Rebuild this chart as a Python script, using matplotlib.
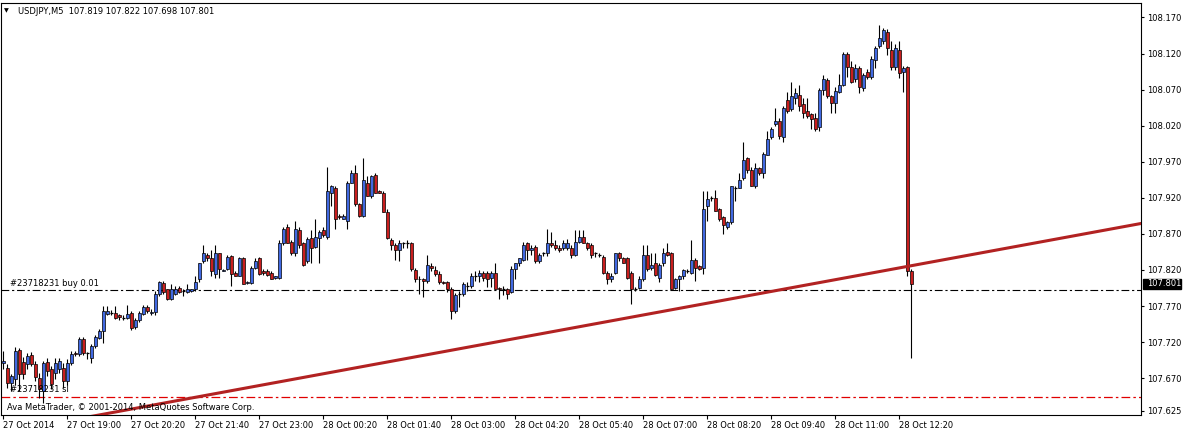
import numpy as np
import matplotlib
matplotlib.use("Agg")
import matplotlib.pyplot as plt
from matplotlib.patches import Rectangle

# USDJPY M5 candles (one row = 16 bars = 80 minutes)
opens = [
    107.691, 107.684, 107.663, 107.669, 107.709, 107.693, 107.690, 107.702, 107.690, 107.670, 107.652, 107.693, 107.683, 107.677, 107.683, 107.684,
    107.666, 107.691, 107.705, 107.704, 107.725, 107.705, 107.698, 107.715, 107.726, 107.736, 107.759, 107.761, 107.761, 107.757, 107.754, 107.754,
    107.761, 107.741, 107.751, 107.759, 107.769, 107.761, 107.762, 107.787, 107.802, 107.793, 107.780, 107.787, 107.795, 107.791, 107.790, 107.791,
    107.793, 107.807, 107.832, 107.841, 107.837, 107.815, 107.843, 107.819, 107.822, 107.840, 107.816, 107.812, 107.837, 107.802, 107.802, 107.823,
    107.837, 107.818, 107.819, 107.816, 107.809, 107.809, 107.858, 107.880, 107.859, 107.843, 107.876, 107.857, 107.833, 107.865, 107.852, 107.865,
    107.876, 107.866, 107.926, 107.933, 107.895, 107.891, 107.888, 107.941, 107.954, 107.911, 107.895, 107.941, 107.923, 107.951, 107.930, 107.927,
    107.901, 107.862, 107.855, 107.848, 107.857, 107.857, 107.857, 107.820, 107.808, 107.807, 107.805, 107.826, 107.820, 107.815, 107.804, 107.804,
    107.794, 107.763, 107.787, 107.787, 107.798, 107.798, 107.812, 107.811, 107.816, 107.816, 107.809, 107.816, 107.795, 107.793, 107.794, 107.790,
    107.822, 107.830, 107.834, 107.857, 107.847, 107.852, 107.833, 107.843, 107.843, 107.858, 107.855, 107.851, 107.850, 107.850, 107.851, 107.841,
    107.859, 107.866, 107.857, 107.855, 107.843, 107.841, 107.838, 107.816, 107.808, 107.816, 107.844, 107.836, 107.836, 107.816, 107.794, 107.795,
    107.808, 107.841, 107.823, 107.829, 107.809, 107.829, 107.845, 107.843, 107.795, 107.807, 107.811, 107.819, 107.816, 107.834, 107.825, 107.823,
    107.908, 107.920, 107.920, 107.904, 107.893, 107.880, 107.886, 107.934, 107.934, 107.947, 107.975, 107.959, 107.937, 107.961, 107.954, 107.980,
    108.004, 108.022, 108.027, 108.004, 108.056, 108.043, 108.058, 108.062, 108.050, 108.041, 108.036, 108.030, 108.018, 108.069, 108.083, 108.061,
    108.051, 108.066, 108.076, 108.120, 108.101, 108.084, 108.100, 108.072, 108.095, 108.087, 108.111, 108.130, 108.138, 108.150, 108.125, 108.101,
    108.125, 108.094, 108.101, 107.819,
]
highs = [
    107.708, 107.690, 107.676, 107.713, 107.712, 107.700, 107.705, 107.707, 107.694, 107.677, 107.694, 107.698, 107.687, 107.698, 107.698, 107.691,
    107.697, 107.708, 107.708, 107.727, 107.727, 107.707, 107.718, 107.730, 107.738, 107.770, 107.770, 107.765, 107.770, 107.759, 107.757, 107.772,
    107.763, 107.754, 107.763, 107.772, 107.772, 107.766, 107.791, 107.805, 107.805, 107.794, 107.801, 107.798, 107.798, 107.793, 107.801, 107.794,
    107.811, 107.830, 107.855, 107.844, 107.847, 107.855, 107.844, 107.822, 107.841, 107.841, 107.819, 107.838, 107.838, 107.805, 107.825, 107.836,
    107.838, 107.822, 107.822, 107.818, 107.812, 107.861, 107.880, 107.884, 107.862, 107.888, 107.879, 107.859, 107.866, 107.875, 107.890, 107.876,
    107.879, 107.963, 107.938, 107.936, 107.898, 107.898, 107.943, 107.958, 107.965, 107.913, 107.975, 107.950, 107.952, 107.955, 107.931, 107.930,
    107.904, 107.865, 107.858, 107.861, 107.859, 107.861, 107.859, 107.823, 107.811, 107.809, 107.841, 107.829, 107.825, 107.818, 107.805, 107.805,
    107.797, 107.788, 107.791, 107.804, 107.804, 107.816, 107.818, 107.820, 107.819, 107.819, 107.819, 107.829, 107.797, 107.798, 107.795, 107.826,
    107.830, 107.837, 107.859, 107.859, 107.854, 107.854, 107.844, 107.845, 107.877, 107.873, 107.861, 107.854, 107.861, 107.863, 107.855, 107.876,
    107.876, 107.875, 107.859, 107.858, 107.845, 107.844, 107.841, 107.819, 107.816, 107.844, 107.845, 107.838, 107.838, 107.819, 107.797, 107.811,
    107.855, 107.855, 107.844, 107.844, 107.829, 107.851, 107.858, 107.845, 107.809, 107.813, 107.822, 107.822, 107.862, 107.836, 107.827, 107.930,
    107.929, 107.922, 107.931, 107.906, 107.895, 107.888, 107.936, 107.937, 107.954, 107.997, 107.976, 107.963, 107.968, 107.963, 107.983, 108.013,
    108.018, 108.045, 108.030, 108.047, 108.066, 108.081, 108.072, 108.077, 108.059, 108.058, 108.038, 108.038, 108.072, 108.090, 108.086, 108.063,
    108.073, 108.091, 108.122, 108.122, 108.109, 108.106, 108.102, 108.093, 108.098, 108.116, 108.130, 108.159, 108.155, 108.154, 108.138, 108.133,
    108.138, 108.102, 108.102, 107.822,
]
lows = [
    107.683, 107.657, 107.652, 107.661, 107.652, 107.669, 107.683, 107.687, 107.666, 107.643, 107.636, 107.673, 107.655, 107.669, 107.677, 107.657,
    107.661, 107.688, 107.701, 107.701, 107.702, 107.697, 107.691, 107.712, 107.725, 107.719, 107.757, 107.757, 107.752, 107.751, 107.751, 107.752,
    107.737, 107.738, 107.748, 107.758, 107.761, 107.758, 107.758, 107.784, 107.787, 107.779, 107.779, 107.786, 107.788, 107.784, 107.788, 107.790,
    107.791, 107.804, 107.829, 107.833, 107.812, 107.809, 107.809, 107.818, 107.820, 107.798, 107.811, 107.811, 107.800, 107.801, 107.801, 107.822,
    107.813, 107.813, 107.812, 107.807, 107.808, 107.808, 107.855, 107.857, 107.841, 107.840, 107.851, 107.826, 107.830, 107.829, 107.850, 107.829,
    107.866, 107.863, 107.909, 107.877, 107.891, 107.890, 107.877, 107.940, 107.909, 107.894, 107.894, 107.922, 107.920, 107.926, 107.926, 107.900,
    107.863, 107.847, 107.834, 107.833, 107.851, 107.850, 107.819, 107.804, 107.787, 107.782, 107.802, 107.819, 107.812, 107.800, 107.801, 107.790,
    107.752, 107.761, 107.769, 107.784, 107.791, 107.795, 107.805, 107.804, 107.805, 107.797, 107.797, 107.793, 107.780, 107.786, 107.780, 107.788,
    107.807, 107.826, 107.833, 107.834, 107.841, 107.829, 107.830, 107.840, 107.840, 107.852, 107.847, 107.845, 107.847, 107.847, 107.837, 107.840,
    107.857, 107.857, 107.847, 107.837, 107.838, 107.838, 107.815, 107.801, 107.804, 107.815, 107.833, 107.829, 107.807, 107.773, 107.791, 107.793,
    107.805, 107.819, 107.820, 107.811, 107.804, 107.826, 107.840, 107.793, 107.793, 107.791, 107.808, 107.816, 107.815, 107.805, 107.820, 107.815,
    107.888, 107.916, 107.902, 107.888, 107.870, 107.877, 107.884, 107.915, 107.933, 107.944, 107.955, 107.936, 107.934, 107.951, 107.948, 107.979,
    108.001, 108.019, 108.002, 107.998, 108.037, 108.040, 108.050, 108.041, 108.030, 108.031, 108.016, 108.012, 108.013, 108.062, 108.058, 108.038,
    108.038, 108.065, 108.075, 108.087, 108.079, 108.081, 108.065, 108.068, 108.084, 108.084, 108.100, 108.127, 108.133, 108.118, 108.097, 108.097,
    108.086, 108.066, 107.811, 107.698,
]
closes = [
    107.694, 107.663, 107.673, 107.708, 107.676, 107.676, 107.701, 107.690, 107.672, 107.655, 107.691, 107.680, 107.662, 107.691, 107.694, 107.666,
    107.691, 107.704, 107.704, 107.725, 107.705, 107.705, 107.715, 107.727, 107.736, 107.763, 107.763, 107.761, 107.754, 107.755, 107.754, 107.759,
    107.740, 107.751, 107.761, 107.768, 107.763, 107.762, 107.787, 107.804, 107.790, 107.780, 107.793, 107.794, 107.790, 107.791, 107.794, 107.793,
    107.804, 107.830, 107.843, 107.837, 107.818, 107.843, 107.822, 107.820, 107.838, 107.815, 107.812, 107.836, 107.801, 107.804, 107.823, 107.832,
    107.815, 107.816, 107.813, 107.808, 107.811, 107.858, 107.877, 107.858, 107.844, 107.877, 107.854, 107.827, 107.863, 107.851, 107.866, 107.873,
    107.868, 107.930, 107.936, 107.891, 107.893, 107.895, 107.940, 107.954, 107.912, 107.895, 107.945, 107.923, 107.950, 107.927, 107.927, 107.901,
    107.865, 107.854, 107.848, 107.858, 107.857, 107.857, 107.822, 107.808, 107.807, 107.805, 107.827, 107.823, 107.815, 107.804, 107.802, 107.794,
    107.763, 107.786, 107.787, 107.801, 107.798, 107.811, 107.812, 107.816, 107.809, 107.808, 107.816, 107.794, 107.793, 107.793, 107.787, 107.822,
    107.829, 107.836, 107.855, 107.847, 107.851, 107.833, 107.841, 107.843, 107.857, 107.855, 107.851, 107.848, 107.857, 107.858, 107.841, 107.859,
    107.866, 107.858, 107.851, 107.841, 107.843, 107.841, 107.816, 107.808, 107.812, 107.843, 107.836, 107.830, 107.809, 107.793, 107.794, 107.807,
    107.841, 107.822, 107.827, 107.813, 107.827, 107.844, 107.841, 107.794, 107.808, 107.812, 107.820, 107.819, 107.834, 107.823, 107.822, 107.905,
    107.919, 107.920, 107.902, 107.891, 107.882, 107.886, 107.936, 107.934, 107.945, 107.973, 107.958, 107.937, 107.962, 107.954, 107.981, 108.002,
    108.015, 108.026, 108.005, 108.045, 108.040, 108.061, 108.065, 108.047, 108.038, 108.033, 108.029, 108.016, 108.070, 108.084, 108.061, 108.052,
    108.068, 108.077, 108.120, 108.101, 108.081, 108.100, 108.073, 108.090, 108.087, 108.113, 108.127, 108.141, 108.152, 108.127, 108.101, 108.127,
    108.093, 108.100, 107.819, 107.801,
]

time_ticks = [0, 16, 32, 48, 64, 80, 96, 112, 128, 144, 160, 176, 192, 208, 224]
time_labels = ["27 Oct 2014", "27 Oct 19:00", "27 Oct 20:20", "27 Oct 21:40", "27 Oct 23:00",
               "28 Oct 00:20", "28 Oct 01:40", "28 Oct 03:00", "28 Oct 04:20", "28 Oct 05:40",
               "28 Oct 07:00", "28 Oct 08:20", "28 Oct 09:40", "28 Oct 11:00", "28 Oct 12:20"]
price_ticks = [108.170, 108.120, 108.070, 108.020, 107.970, 107.920, 107.870,
               107.820, 107.770, 107.720, 107.670, 107.625]

buy_price = 107.792
sl_price = 107.644
bid_price = 107.801
trend_bars = [20, 285]
trend_prices = [107.615, 107.885]

UP = "#4169e1"
DOWN = "#c81e1e"
FS = 6.0
W, H = 1184, 433

fig = plt.figure(figsize=(W / 100, H / 100), dpi=100)
ax = fig.add_axes([1 / W, 18 / H, 1140 / W, 412 / H])

x = np.arange(len(opens))
o = np.array(opens)
h = np.array(highs)
l = np.array(lows)
c = np.array(closes)

ax.vlines(x, l, h, color="k", lw=0.8, zorder=3)
up = c > o
dn = c < o
dj = c == o
ax.bar(x[up], (c - o)[up], bottom=o[up], width=0.65, color=UP, edgecolor="k", lw=0.5, zorder=4)
ax.bar(x[dn], (c - o)[dn], bottom=o[dn], width=0.65, color=DOWN, edgecolor="k", lw=0.5, zorder=4)
ax.hlines(o[dj], x[dj] - 0.4, x[dj] + 0.4, color="k", lw=0.9, zorder=4)

dashdot = (0, (7, 2.5, 2, 2.5))
ax.axhline(buy_price, color="k", lw=0.8, ls=dashdot, zorder=2)
ax.axhline(sl_price, color="#e00000", lw=0.9, ls=dashdot, zorder=2)
ax.plot(trend_bars, trend_prices, color="#b22222", lw=2.2, zorder=5, solid_capstyle="butt")

ax.set_xlim(-0.575, 284.43)
ax.set_ylim(107.619, 108.190)

ax.set_xticks(time_ticks)
ax.set_xticklabels(time_labels, ha="left")
ax.tick_params(axis="x", direction="out", length=3, width=0.8, pad=1.5, labelsize=FS)
ax.yaxis.tick_right()
ax.set_yticks(price_ticks)
ax.set_yticklabels(["%.3f" % p for p in price_ticks])
ax.tick_params(axis="y", direction="out", length=2.5, width=0.8, pad=2, labelsize=FS)
for s in ax.spines.values():
    s.set_color("k")
    s.set_linewidth(0.8)


def px(xp, yp):
    return xp / W, 1 - yp / H


fig.text(*px(4, 11), "\u25bc", fontsize=4.5, va="center", ha="left")
fig.text(*px(18, 11), "USDJPY,M5  107.819 107.822 107.698 107.801", fontsize=FS, va="center")
fig.text(*px(10, 288), "#23718231 buy 0.01", fontsize=FS, va="bottom")
fig.text(*px(10, 394), "#23718231 sl", fontsize=FS, va="bottom")
fig.text(*px(7, 408), "Ava MetaTrader, \u00a9 2001-2014, MetaQuotes Software Corp.",
         fontsize=FS, va="center", zorder=10)

# current bid box on the price scale
fig.patches.append(Rectangle(px(1142.5, 288.7), 38.5 / W, 9.4 / H, transform=fig.transFigure,
                             facecolor="k", edgecolor="k", zorder=10))
fig.text(*px(1147, 284), "%.3f" % bid_price, fontsize=FS, color="white", va="center", zorder=11)

fig.savefig("out.png", dpi=100)
